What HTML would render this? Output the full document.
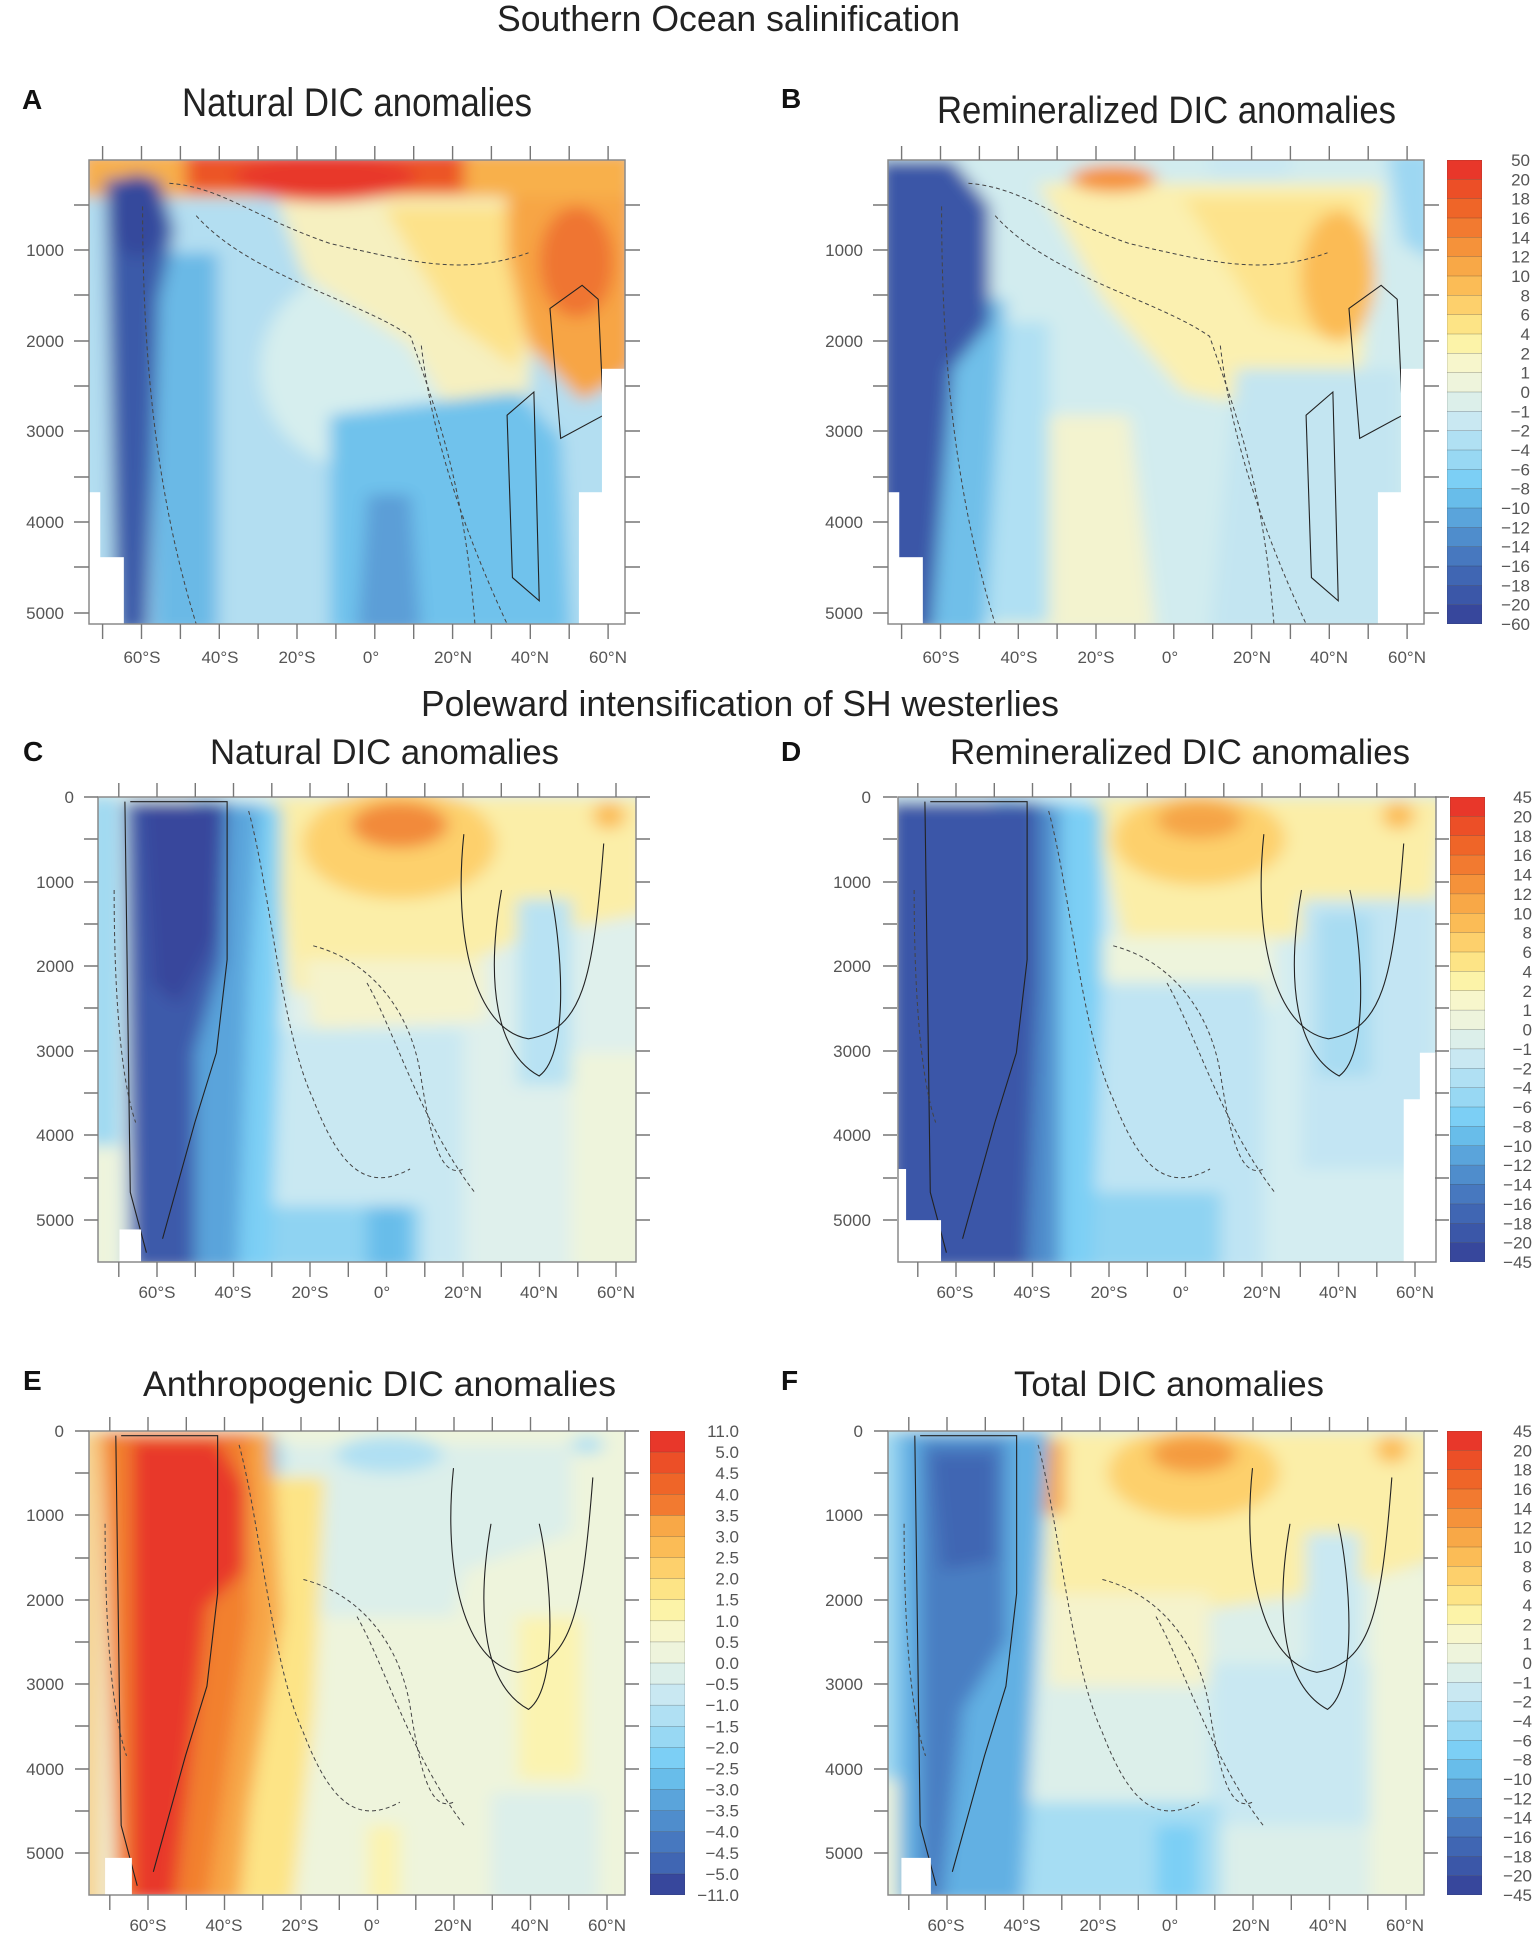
<!DOCTYPE html>
<html><head><meta charset="utf-8"><style>
html,body{margin:0;padding:0;background:#fff;}
svg{display:block;}
.t{font-family:"Liberation Sans Narrow","Liberation Sans",sans-serif;fill:#222;}
.k{font-family:"Liberation Sans Narrow","Liberation Sans",sans-serif;fill:#555;font-size:17px;}
.L{font-family:"Liberation Sans",sans-serif;font-weight:bold;fill:#111;font-size:28px;}
.ax{fill:none;stroke:#8a8a8a;stroke-width:1.5;}
.tk{stroke:#777;stroke-width:1.4;}
.cn{fill:none;stroke:#333;stroke-width:0.25;vector-effect:non-scaling-stroke;}
.cd{fill:none;stroke:#444;stroke-width:1;stroke-dasharray:4 3;vector-effect:non-scaling-stroke;}
.cs{fill:none;stroke:#222;stroke-width:1.1;vector-effect:non-scaling-stroke;}
</style></head><body>
<svg width="1535" height="1934" viewBox="0 0 1535 1934" xmlns="http://www.w3.org/2000/svg">
<defs>
<filter id="bl" x="-20%" y="-20%" width="140%" height="140%"><feGaussianBlur stdDeviation="1.6"/></filter>
<symbol id="cb24" viewBox="0 0 35 24" preserveAspectRatio="none">
<rect x="0" y="0" width="35" height="1" fill="#e8372a"/><rect x="0" y="1" width="35" height="1" fill="#ec4f27"/><rect x="0" y="2" width="35" height="1" fill="#ef6528"/><rect x="0" y="3" width="35" height="1" fill="#f27a30"/><rect x="0" y="4" width="35" height="1" fill="#f5923a"/><rect x="0" y="5" width="35" height="1" fill="#f8a847"/><rect x="0" y="6" width="35" height="1" fill="#fbbc56"/><rect x="0" y="7" width="35" height="1" fill="#fdd06c"/><rect x="0" y="8" width="35" height="1" fill="#fde486"/><rect x="0" y="9" width="35" height="1" fill="#fcf3a8"/><rect x="0" y="10" width="35" height="1" fill="#f7f6cc"/><rect x="0" y="11" width="35" height="1" fill="#eef4dc"/><rect x="0" y="12" width="35" height="1" fill="#dcefea"/><rect x="0" y="13" width="35" height="1" fill="#c9e8f2"/><rect x="0" y="14" width="35" height="1" fill="#b0e0f3"/><rect x="0" y="15" width="35" height="1" fill="#98d8f3"/><rect x="0" y="16" width="35" height="1" fill="#7ccff5"/><rect x="0" y="17" width="35" height="1" fill="#68bdea"/><rect x="0" y="18" width="35" height="1" fill="#5aa4db"/><rect x="0" y="19" width="35" height="1" fill="#4f8dcc"/><rect x="0" y="20" width="35" height="1" fill="#4778bf"/><rect x="0" y="21" width="35" height="1" fill="#4066b3"/><rect x="0" y="22" width="35" height="1" fill="#3b57a8"/><rect x="0" y="23" width="35" height="1" fill="#37479c"/>
<path class="cn" d="M0 1H35M0 2H35M0 3H35M0 4H35M0 5H35M0 6H35M0 7H35M0 8H35M0 9H35M0 10H35M0 11H35M0 12H35M0 13H35M0 14H35M0 15H35M0 16H35M0 17H35M0 18H35M0 19H35M0 20H35M0 21H35M0 22H35M0 23H35M0 0H35V24H0Z"/>
</symbol>
<symbol id="cb22" viewBox="0 0 35 22" preserveAspectRatio="none">
<rect x="0" y="0" width="35" height="1" fill="#e8372a"/><rect x="0" y="1" width="35" height="1" fill="#ec4f27"/><rect x="0" y="2" width="35" height="1" fill="#ef6528"/><rect x="0" y="3" width="35" height="1" fill="#f27a30"/><rect x="0" y="4" width="35" height="1" fill="#f8a847"/><rect x="0" y="5" width="35" height="1" fill="#fbbc56"/><rect x="0" y="6" width="35" height="1" fill="#fdd06c"/><rect x="0" y="7" width="35" height="1" fill="#fde486"/><rect x="0" y="8" width="35" height="1" fill="#fcf3a8"/><rect x="0" y="9" width="35" height="1" fill="#f7f6cc"/><rect x="0" y="10" width="35" height="1" fill="#eef4dc"/><rect x="0" y="11" width="35" height="1" fill="#dcefea"/><rect x="0" y="12" width="35" height="1" fill="#c9e8f2"/><rect x="0" y="13" width="35" height="1" fill="#b0e0f3"/><rect x="0" y="14" width="35" height="1" fill="#98d8f3"/><rect x="0" y="15" width="35" height="1" fill="#7ccff5"/><rect x="0" y="16" width="35" height="1" fill="#68bdea"/><rect x="0" y="17" width="35" height="1" fill="#5aa4db"/><rect x="0" y="18" width="35" height="1" fill="#4f8dcc"/><rect x="0" y="19" width="35" height="1" fill="#4778bf"/><rect x="0" y="20" width="35" height="1" fill="#4066b3"/><rect x="0" y="21" width="35" height="1" fill="#37479c"/>
<path class="cn" d="M0 1H35M0 2H35M0 3H35M0 4H35M0 5H35M0 6H35M0 7H35M0 8H35M0 9H35M0 10H35M0 11H35M0 12H35M0 13H35M0 14H35M0 15H35M0 16H35M0 17H35M0 18H35M0 19H35M0 20H35M0 21H35M0 0H35V22H0Z"/>
</symbol>
</defs>

<text class="t" x="497" y="31" font-size="36" textLength="463" lengthAdjust="spacingAndGlyphs">Southern Ocean salinification</text>
<text class="L" x="22" y="109">A</text>
<text class="t" x="182" y="116" font-size="40" textLength="350" lengthAdjust="spacingAndGlyphs">Natural DIC anomalies</text>
<text class="L" x="781" y="108">B</text>
<text class="t" x="937" y="123" font-size="38" textLength="459" lengthAdjust="spacingAndGlyphs">Remineralized DIC anomalies</text>

<text class="t" x="421" y="716" font-size="36" textLength="638" lengthAdjust="spacingAndGlyphs">Poleward intensification of SH westerlies</text>
<text class="L" x="23" y="761">C</text>
<text class="t" x="210" y="764" font-size="35" textLength="349" lengthAdjust="spacingAndGlyphs">Natural DIC anomalies</text>
<text class="L" x="781" y="761">D</text>
<text class="t" x="950" y="764" font-size="35" textLength="460" lengthAdjust="spacingAndGlyphs">Remineralized DIC anomalies</text>

<text class="L" x="23" y="1390">E</text>
<text class="t" x="143" y="1396" font-size="35" textLength="473" lengthAdjust="spacingAndGlyphs">Anthropogenic DIC anomalies</text>
<text class="L" x="781" y="1390">F</text>
<text class="t" x="1014" y="1396" font-size="35" textLength="310" lengthAdjust="spacingAndGlyphs">Total DIC anomalies</text>

<!-- Panel A -->
<svg x="89" y="160" width="536" height="464" viewBox="0 0 100 100" preserveAspectRatio="none">
<g filter="url(#bl)">
<rect x="-5" y="-5" width="110" height="110" fill="#b3def1"/>
<ellipse cx="52" cy="45" rx="20" ry="22" fill="#d6eeee"/>
<polygon points="35,8 85,8 82,50 70,60 60,40 40,25" fill="#f6f0c0"/>
<polygon points="55,10 85,10 80,45 68,35 60,20" fill="#fde28a"/>
<polygon points="78,5 102,5 102,45 92,52 82,40 78,20" fill="#f7a545"/>
<ellipse cx="91" cy="22" rx="7" ry="12" fill="#ef7530"/>
<rect x="-2" y="-2" width="104" height="10" fill="#f8b04c"/>
<rect x="18" y="-2" width="52" height="9" fill="#ec5528"/>
<ellipse cx="44" cy="4" rx="17" ry="5" fill="#e8372a"/>
<polygon points="12,20 24,20 24,102 12,102" fill="#6ab9e6"/>
<polygon points="45,55 80,50 88,60 90,102 45,102" fill="#70c2ec"/>
<polygon points="52,72 60,72 62,102 50,102" fill="#5c9ed7"/>
<polygon points="3,4 13,4 16,15 13,30 11,102 5,102" fill="#3b5aa9"/>
<ellipse cx="9" cy="12" rx="5" ry="9" fill="#36499c"/>
</g>
<path class="cd" d="M15,5 C25,6 30,12 45,18 60,22 70,25 82,20 M20,12 C30,25 50,30 60,38 65,55 70,70 72,100 M10,10 C10,40 12,70 20,100 M62,40 C64,60 70,80 78,100"/>
<path class="cs" d="M86,32 L92,27 95,30 96,55 88,60 Z M78,55 L83,50 84,95 79,90 Z"/>
<rect x="-1" y="71.6" width="3.1" height="30" fill="#fff"/>
<rect x="-1" y="85.6" width="7.5" height="20" fill="#fff"/>
<rect x="95.7" y="45" width="6" height="60" fill="#fff"/>
<rect x="91.4" y="71.6" width="10" height="30" fill="#fff"/>
</svg>
<rect class="ax" x="89" y="160" width="536" height="464"/>

<!-- Panel B -->
<svg x="888" y="160" width="536" height="464" viewBox="0 0 100 100" preserveAspectRatio="none">
<g filter="url(#bl)">
<rect x="-5" y="-5" width="110" height="110" fill="#d2ecef"/>
<polygon points="18,55 45,55 50,102 20,102" fill="#f3f3cf"/>
<polygon points="28,5 92,5 88,48 75,55 55,50 40,30" fill="#fbf0b0"/>
<polygon points="55,8 88,8 86,40 70,35" fill="#fde38c"/>
<ellipse cx="84" cy="25" rx="7" ry="14" fill="#fbbb55"/>
<ellipse cx="42" cy="4" rx="8" ry="3" fill="#f5923a"/>
<rect x="60" y="-2" width="15" height="6" fill="#c9e8f2"/>
<polygon points="93,-2 102,-2 102,22 96,18" fill="#9dd7f2"/>
<polygon points="65,45 96,45 96,102 60,102" fill="#c3e5f1"/>
<polygon points="14,35 30,35 30,100 14,100" fill="#b0e0f3"/>
<polygon points="8,30 22,30 18,102 8,102" fill="#6fbfe9"/>
<polygon points="-2,0 12,0 19,10 19,35 12,45 8,102 -2,102" fill="#3a56a7"/>
</g>
<path class="cd" d="M15,5 C25,6 30,12 45,18 60,22 70,25 82,20 M20,12 C30,25 50,30 60,38 65,55 70,70 72,100 M10,10 C10,40 12,70 20,100 M62,40 C64,60 70,80 78,100"/>
<path class="cs" d="M86,32 L92,27 95,30 96,55 88,60 Z M78,55 L83,50 84,95 79,90 Z"/>
<rect x="-1" y="71.6" width="3.1" height="30" fill="#fff"/>
<rect x="-1" y="85.6" width="7.5" height="20" fill="#fff"/>
<rect x="95.7" y="45" width="6" height="60" fill="#fff"/>
<rect x="91.4" y="71.6" width="10" height="30" fill="#fff"/>
</svg>
<rect class="ax" x="888" y="160" width="536" height="464"/>

<!-- Panel C -->
<svg x="98" y="797" width="538" height="465" viewBox="0 0 100 100" preserveAspectRatio="none">
<g filter="url(#bl)">
<rect x="-5" y="-5" width="110" height="110" fill="#dff0ec"/>
<polygon points="28,50 68,50 68,102 28,102" fill="#c9e8f2"/>
<polygon points="88,55 102,55 102,102 88,102" fill="#eef4dc"/>
<polygon points="32,0 102,0 102,25 80,30 60,40 36,42" fill="#fbeea8"/>
<polygon points="38,35 72,35 72,48 40,50" fill="#f5f3cc"/>
<ellipse cx="56" cy="10" rx="18" ry="12" fill="#fdd06c"/>
<ellipse cx="56" cy="6" rx="9" ry="5" fill="#f28a3a"/>
<polygon points="29,2 33,2 33,16 30,16" fill="#f5953c"/>
<ellipse cx="95" cy="4" rx="3" ry="3" fill="#fbbc56"/>
<polygon points="78,22 88,22 88,62 78,62" fill="#b8e2f3"/>
<polygon points="6,88 60,88 60,102 6,102" fill="#8fd3f2"/>
<polygon points="50,88 58,88 58,102 50,102" fill="#68bdea"/>
<polygon points="18,0 34,2 34,40 32,102 14,102" fill="#7ccff5"/>
<polygon points="18,2 30,2 28,40 26,102 12,102" fill="#5aa4db"/>
<polygon points="5,1 24,1 23,35 18,55 18,102 6,102" fill="#3d5aaa"/>
<polygon points="8,1 23,1 22,30 15,45 10,40" fill="#37479c"/>
<rect x="-2" y="0" width="6" height="75" fill="#9fd9f2"/>
<rect x="-2" y="75" width="6" height="30" fill="#eef4dc"/>
</g>
<path class="cs" d="M5,1 L6,85 L9,98 M6,1 L24,1 L24,35 L22,55 L18,70 L12,95 M68,8 C66,30 70,50 80,52 C90,50 92,40 94,10 M75,20 C72,40 74,55 82,60 C88,55 86,30 84,20"/>
<path class="cd" d="M28,3 C32,20 34,50 40,65 45,80 50,85 58,80 M40,32 C50,35 58,45 60,60 62,75 64,82 68,80 M50,40 C55,50 60,70 70,85 M3,20 C3,40 4,60 7,70"/>
<rect x="4" y="93" width="4" height="10" fill="#fff"/>
</svg>
<rect class="ax" x="98" y="797" width="538" height="465"/>

<!-- Panel D -->
<svg x="898" y="797" width="538" height="465" viewBox="0 0 100 100" preserveAspectRatio="none">
<g filter="url(#bl)">
<rect x="-5" y="-5" width="110" height="110" fill="#d4edf1"/>
<polygon points="36,0 102,0 100,22 80,30 42,32" fill="#fbeea8"/>
<polygon points="36,30 70,30 70,45 40,48" fill="#eef4dc"/>
<ellipse cx="56" cy="9" rx="16" ry="10" fill="#fdd06c"/>
<ellipse cx="56" cy="5" rx="8" ry="4" fill="#f5a446"/>
<polygon points="30,2 34,2 34,14 31,14" fill="#fbbc56"/>
<ellipse cx="93" cy="4" rx="3" ry="3" fill="#fbbc56"/>
<polygon points="75,22 100,22 100,80 75,80" fill="#c3e5f3"/>
<polygon points="78,25 88,25 88,60 78,60" fill="#a8dcf2"/>
<polygon points="28,40 68,40 68,102 28,102" fill="#bfe4f3"/>
<polygon points="30,85 60,85 60,102 30,102" fill="#8fd3f2"/>
<polygon points="18,0 38,2 38,40 36,102 14,102" fill="#7ccff5"/>
<polygon points="18,2 30,2 30,40 30,102 12,102" fill="#4f8dcc"/>
<polygon points="-2,1 26,1 26,40 24,102 -2,102" fill="#3b57a8"/>
</g>
<path class="cs" d="M5,1 L6,85 L9,98 M6,1 L24,1 L24,35 L22,55 L18,70 L12,95 M68,8 C66,30 70,50 80,52 C90,50 92,40 94,10 M75,20 C72,40 74,55 82,60 C88,55 86,30 84,20"/>
<path class="cd" d="M28,3 C32,20 34,50 40,65 45,80 50,85 58,80 M40,32 C50,35 58,45 60,60 62,75 64,82 68,80 M50,40 C55,50 60,70 70,85 M3,20 C3,40 4,60 7,70"/>
<rect x="-1" y="80" width="2.5" height="25" fill="#fff"/>
<rect x="-1" y="91" width="9" height="15" fill="#fff"/>
<rect x="97" y="55" width="5" height="50" fill="#fff"/>
<rect x="94" y="65" width="8" height="40" fill="#fff"/>
</svg>
<rect class="ax" x="898" y="797" width="538" height="465"/>

<!-- Panel E -->
<svg x="89" y="1431" width="536" height="464" viewBox="0 0 100 100" preserveAspectRatio="none">
<g filter="url(#bl)">
<rect x="-5" y="-5" width="110" height="110" fill="#eef4dc"/>
<polygon points="36,3 90,3 90,22 70,30 68,40 38,40" fill="#dcefea"/>
<ellipse cx="56" cy="5" rx="10" ry="4" fill="#b0e0f3"/>
<ellipse cx="33" cy="6" rx="3" ry="6" fill="#7ccff5"/>
<ellipse cx="93" cy="3" rx="3" ry="2" fill="#b0e0f3"/>
<polygon points="80,40 92,40 92,75 80,75" fill="#fbf3b0"/>
<polygon points="75,78 95,78 95,102 75,102" fill="#dcefea"/>
<polygon points="52,85 58,85 58,102 52,102" fill="#fbf3b0"/>
<polygon points="30,10 44,10 42,60 38,102 25,102" fill="#fde486"/>
<polygon points="2,0 34,0 36,40 30,80 28,102 5,102" fill="#f7a646"/>
<polygon points="3,0 30,0 30,40 22,102 5,102" fill="#f2802f"/>
<polygon points="8,2 24,2 29,12 29,30 22,38 16,102 8,102" fill="#e8372a"/>
<rect x="-2" y="0" width="4" height="105" fill="#f7d08a"/>
</g>
<path class="cs" d="M5,1 L6,85 L9,98 M6,1 L24,1 L24,35 L22,55 L18,70 L12,95 M68,8 C66,30 70,50 80,52 C90,50 92,40 94,10 M75,20 C72,40 74,55 82,60 C88,55 86,30 84,20"/>
<path class="cd" d="M28,3 C32,20 34,50 40,65 45,80 50,85 58,80 M40,32 C50,35 58,45 60,60 62,75 64,82 68,80 M50,40 C55,50 60,70 70,85 M3,20 C3,40 4,60 7,70"/>
<rect x="3" y="92" width="5" height="12" fill="#fff"/>
</svg>
<rect class="ax" x="89" y="1431" width="536" height="464"/>

<!-- Panel F -->
<svg x="888" y="1431" width="536" height="464" viewBox="0 0 100 100" preserveAspectRatio="none">
<g filter="url(#bl)">
<rect x="-5" y="-5" width="110" height="110" fill="#dcefea"/>
<polygon points="90,30 102,30 102,102 90,102" fill="#eef4dc"/>
<polygon points="30,0 102,0 102,28 80,35 50,40 30,40" fill="#fbeea8"/>
<polygon points="30,35 60,35 60,55 30,55" fill="#f5f3cc"/>
<ellipse cx="57" cy="9" rx="16" ry="10" fill="#fdd06c"/>
<ellipse cx="57" cy="5" rx="8" ry="4" fill="#f49b40"/>
<polygon points="28,2 33,2 33,18 29,18" fill="#f7a646"/>
<ellipse cx="94" cy="4" rx="3" ry="3" fill="#fbbc56"/>
<polygon points="78,22 88,22 88,58 78,58" fill="#c9e8f2"/>
<polygon points="60,50 90,50 90,85 60,85" fill="#c9e8f2"/>
<polygon points="10,80 62,80 62,102 10,102" fill="#a6ddf3"/>
<polygon points="50,85 58,85 58,102 50,102" fill="#7ccff5"/>
<polygon points="-2,0 30,0 28,40 25,102 -2,102" fill="#62b0e3"/>
<polygon points="6,2 22,2 22,45 14,60 10,102 6,102" fill="#4a7ec2"/>
<polygon points="8,5 20,5 20,28 10,30" fill="#4066b3"/>
<rect x="-2" y="0" width="4" height="75" fill="#9fd9f2"/>
<rect x="-2" y="75" width="4" height="30" fill="#eef4dc"/>
</g>
<path class="cs" d="M5,1 L6,85 L9,98 M6,1 L24,1 L24,35 L22,55 L18,70 L12,95 M68,8 C66,30 70,50 80,52 C90,50 92,40 94,10 M75,20 C72,40 74,55 82,60 C88,55 86,30 84,20"/>
<path class="cd" d="M28,3 C32,20 34,50 40,65 45,80 50,85 58,80 M40,32 C50,35 58,45 60,60 62,75 64,82 68,80 M50,40 C55,50 60,70 70,85 M3,20 C3,40 4,60 7,70"/>
<rect x="2.5" y="92" width="5.5" height="12" fill="#fff"/>
</svg>
<rect class="ax" x="888" y="1431" width="536" height="464"/>

<!-- Ticks -->
<path class="tk" d="M102.6 146V160M141.5 146V160M180.4 146V160M219.3 146V160M258.1 146V160M297 146V160M335.9 146V160M374.8 146V160M413.7 146V160M452.6 146V160M491.4 146V160M530.3 146V160M569.2 146V160M608.1 146V160
M102.6 624V639M141.5 624V639M180.4 624V639M219.3 624V639M258.1 624V639M297 624V639M335.9 624V639M374.8 624V639M413.7 624V639M452.6 624V639M491.4 624V639M530.3 624V639M569.2 624V639M608.1 624V639
M74 205H89M74 250H89M74 295H89M74 341H89M74 386H89M74 431H89M74 477H89M74 522H89M74 567H89M74 613H89
M625 205H640M625 250H640M625 295H640M625 341H640M625 386H640M625 431H640M625 477H640M625 522H640M625 567H640M625 613H640"/>
<g transform="translate(799,0)"><path class="tk" d="M102.6 146V160M141.5 146V160M180.4 146V160M219.3 146V160M258.1 146V160M297 146V160M335.9 146V160M374.8 146V160M413.7 146V160M452.6 146V160M491.4 146V160M530.3 146V160M569.2 146V160M608.1 146V160
M102.6 624V639M141.5 624V639M180.4 624V639M219.3 624V639M258.1 624V639M297 624V639M335.9 624V639M374.8 624V639M413.7 624V639M452.6 624V639M491.4 624V639M530.3 624V639M569.2 624V639M608.1 624V639
M74 205H89M74 250H89M74 295H89M74 341H89M74 386H89M74 431H89M74 477H89M74 522H89M74 567H89M74 613H89
M625 205H640M625 250H640M625 295H640M625 341H640M625 386H640M625 431H640M625 477H640M625 522H640M625 567H640M625 613H640"/></g>
<path class="tk" d="M118.8 783V797M157 783V797M195.3 783V797M233.5 783V797M271.8 783V797M310 783V797M348.3 783V797M386.5 783V797M424.8 783V797M463 783V797M501.3 783V797M539.5 783V797M577.8 783V797M616 783V797
M118.8 1262V1277M157 1262V1277M195.3 1262V1277M233.5 1262V1277M271.8 1262V1277M310 1262V1277M348.3 1262V1277M386.5 1262V1277M424.8 1262V1277M463 1262V1277M501.3 1262V1277M539.5 1262V1277M577.8 1262V1277M616 1262V1277
M84 797H98M84 839H98M84 882H98M84 924H98M84 966H98M84 1008H98M84 1051H98M84 1093H98M84 1135H98M84 1178H98M84 1220H98
M636 797H650M636 839H650M636 882H650M636 924H650M636 966H650M636 1008H650M636 1051H650M636 1093H650M636 1135H650M636 1178H650M636 1220H650"/>
<g transform="translate(799,0)"><path class="tk" d="M118.8 783V797M157 783V797M195.3 783V797M233.5 783V797M271.8 783V797M310 783V797M348.3 783V797M386.5 783V797M424.8 783V797M463 783V797M501.3 783V797M539.5 783V797M577.8 783V797M616 783V797
M118.8 1262V1277M157 1262V1277M195.3 1262V1277M233.5 1262V1277M271.8 1262V1277M310 1262V1277M348.3 1262V1277M386.5 1262V1277M424.8 1262V1277M463 1262V1277M501.3 1262V1277M539.5 1262V1277M577.8 1262V1277M616 1262V1277
M84 797H98M84 839H98M84 882H98M84 924H98M84 966H98M84 1008H98M84 1051H98M84 1093H98M84 1135H98M84 1178H98M84 1220H98
M636 797H650M636 839H650M636 882H650M636 924H650M636 966H650M636 1008H650M636 1051H650M636 1093H650M636 1135H650M636 1178H650M636 1220H650"/></g>
<path class="tk" d="M109.8 1417V1431M148 1417V1431M186.3 1417V1431M224.5 1417V1431M262.8 1417V1431M301 1417V1431M339.3 1417V1431M377.5 1417V1431M415.8 1417V1431M454 1417V1431M492.3 1417V1431M530.5 1417V1431M568.8 1417V1431M607 1417V1431
M109.8 1895V1910M148 1895V1910M186.3 1895V1910M224.5 1895V1910M262.8 1895V1910M301 1895V1910M339.3 1895V1910M377.5 1895V1910M415.8 1895V1910M454 1895V1910M492.3 1895V1910M530.5 1895V1910M568.8 1895V1910M607 1895V1910
M75 1431H89M75 1473H89M75 1515H89M75 1558H89M75 1600H89M75 1642H89M75 1684H89M75 1726H89M75 1769H89M75 1811H89M75 1853H89
M625 1431H639M625 1473H639M625 1515H639M625 1558H639M625 1600H639M625 1642H639M625 1684H639M625 1726H639M625 1769H639M625 1811H639M625 1853H639"/>
<g transform="translate(799,0)"><path class="tk" d="M109.8 1417V1431M148 1417V1431M186.3 1417V1431M224.5 1417V1431M262.8 1417V1431M301 1417V1431M339.3 1417V1431M377.5 1417V1431M415.8 1417V1431M454 1417V1431M492.3 1417V1431M530.5 1417V1431M568.8 1417V1431M607 1417V1431
M109.8 1895V1910M148 1895V1910M186.3 1895V1910M224.5 1895V1910M262.8 1895V1910M301 1895V1910M339.3 1895V1910M377.5 1895V1910M415.8 1895V1910M454 1895V1910M492.3 1895V1910M530.5 1895V1910M568.8 1895V1910M607 1895V1910
M75 1431H89M75 1473H89M75 1515H89M75 1558H89M75 1600H89M75 1642H89M75 1684H89M75 1726H89M75 1769H89M75 1811H89M75 1853H89
M625 1431H639M625 1473H639M625 1515H639M625 1558H639M625 1600H639M625 1642H639M625 1684H639M625 1726H639M625 1769H639M625 1811H639M625 1853H639"/></g>

<!-- Axis labels -->
<g class="k" text-anchor="end">
<text x="64" y="256">1000</text><text x="64" y="347">2000</text><text x="64" y="437">3000</text><text x="64" y="528">4000</text><text x="64" y="619">5000</text>
<text x="863" y="256">1000</text><text x="863" y="347">2000</text><text x="863" y="437">3000</text><text x="863" y="528">4000</text><text x="863" y="619">5000</text>
<text x="74" y="803">0</text><text x="74" y="888">1000</text><text x="74" y="972">2000</text><text x="74" y="1057">3000</text><text x="74" y="1141">4000</text><text x="74" y="1226">5000</text>
<text x="871" y="803">0</text><text x="871" y="888">1000</text><text x="871" y="972">2000</text><text x="871" y="1057">3000</text><text x="871" y="1141">4000</text><text x="871" y="1226">5000</text>
<text x="64" y="1437">0</text><text x="64" y="1521">1000</text><text x="64" y="1606">2000</text><text x="64" y="1690">3000</text><text x="64" y="1775">4000</text><text x="64" y="1859">5000</text>
<text x="863" y="1437">0</text><text x="863" y="1521">1000</text><text x="863" y="1606">2000</text><text x="863" y="1690">3000</text><text x="863" y="1775">4000</text><text x="863" y="1859">5000</text>
</g>
<g class="k" text-anchor="middle">
<text x="142" y="663">60°S</text><text x="220" y="663">40°S</text><text x="297" y="663">20°S</text><text x="371" y="663">0°</text><text x="453" y="663">20°N</text><text x="530" y="663">40°N</text><text x="608" y="663">60°N</text>
<text x="941" y="663">60°S</text><text x="1019" y="663">40°S</text><text x="1096" y="663">20°S</text><text x="1170" y="663">0°</text><text x="1252" y="663">20°N</text><text x="1329" y="663">40°N</text><text x="1407" y="663">60°N</text>
<text x="157" y="1298">60°S</text><text x="233" y="1298">40°S</text><text x="310" y="1298">20°S</text><text x="382" y="1298">0°</text><text x="463" y="1298">20°N</text><text x="539" y="1298">40°N</text><text x="616" y="1298">60°N</text>
<text x="955" y="1298">60°S</text><text x="1032" y="1298">40°S</text><text x="1109" y="1298">20°S</text><text x="1181" y="1298">0°</text><text x="1262" y="1298">20°N</text><text x="1338" y="1298">40°N</text><text x="1415" y="1298">60°N</text>
<text x="148" y="1931">60°S</text><text x="224" y="1931">40°S</text><text x="300" y="1931">20°S</text><text x="372" y="1931">0°</text><text x="453" y="1931">20°N</text><text x="530" y="1931">40°N</text><text x="607" y="1931">60°N</text>
<text x="946" y="1931">60°S</text><text x="1022" y="1931">40°S</text><text x="1098" y="1931">20°S</text><text x="1170" y="1931">0°</text><text x="1251" y="1931">20°N</text><text x="1328" y="1931">40°N</text><text x="1405" y="1931">60°N</text>
</g>

<!-- Colorbars -->
<use href="#cb24" x="1447" y="160" width="35" height="464"/>
<use href="#cb24" x="1450" y="797" width="35" height="465"/>
<use href="#cb22" x="650" y="1431" width="35" height="464"/>
<use href="#cb24" x="1447" y="1431" width="35" height="464"/>

<text class="k" text-anchor="end" font-size="17"><tspan x="1530" y="166">50</tspan><tspan x="1530" dy="19.33">20</tspan><tspan x="1530" dy="19.33">18</tspan><tspan x="1530" dy="19.33">16</tspan><tspan x="1530" dy="19.33">14</tspan><tspan x="1530" dy="19.33">12</tspan><tspan x="1530" dy="19.33">10</tspan><tspan x="1530" dy="19.33">8</tspan><tspan x="1530" dy="19.33">6</tspan><tspan x="1530" dy="19.33">4</tspan><tspan x="1530" dy="19.33">2</tspan><tspan x="1530" dy="19.33">1</tspan><tspan x="1530" dy="19.33">0</tspan><tspan x="1530" dy="19.33">−1</tspan><tspan x="1530" dy="19.33">−2</tspan><tspan x="1530" dy="19.33">−4</tspan><tspan x="1530" dy="19.33">−6</tspan><tspan x="1530" dy="19.33">−8</tspan><tspan x="1530" dy="19.33">−10</tspan><tspan x="1530" dy="19.33">−12</tspan><tspan x="1530" dy="19.33">−14</tspan><tspan x="1530" dy="19.33">−16</tspan><tspan x="1530" dy="19.33">−18</tspan><tspan x="1530" dy="19.33">−20</tspan><tspan x="1530" dy="19.33">−60</tspan></text>

<text class="k" text-anchor="end" font-size="17"><tspan x="1532" y="803">45</tspan><tspan x="1532" dy="19.375">20</tspan><tspan x="1532" dy="19.375">18</tspan><tspan x="1532" dy="19.375">16</tspan><tspan x="1532" dy="19.375">14</tspan><tspan x="1532" dy="19.375">12</tspan><tspan x="1532" dy="19.375">10</tspan><tspan x="1532" dy="19.375">8</tspan><tspan x="1532" dy="19.375">6</tspan><tspan x="1532" dy="19.375">4</tspan><tspan x="1532" dy="19.375">2</tspan><tspan x="1532" dy="19.375">1</tspan><tspan x="1532" dy="19.375">0</tspan><tspan x="1532" dy="19.375">−1</tspan><tspan x="1532" dy="19.375">−2</tspan><tspan x="1532" dy="19.375">−4</tspan><tspan x="1532" dy="19.375">−6</tspan><tspan x="1532" dy="19.375">−8</tspan><tspan x="1532" dy="19.375">−10</tspan><tspan x="1532" dy="19.375">−12</tspan><tspan x="1532" dy="19.375">−14</tspan><tspan x="1532" dy="19.375">−16</tspan><tspan x="1532" dy="19.375">−18</tspan><tspan x="1532" dy="19.375">−20</tspan><tspan x="1532" dy="19.375">−45</tspan></text>

<text class="k" text-anchor="end" font-size="17"><tspan x="739" y="1437">11.0</tspan><tspan x="739" dy="21.09">5.0</tspan><tspan x="739" dy="21.09">4.5</tspan><tspan x="739" dy="21.09">4.0</tspan><tspan x="739" dy="21.09">3.5</tspan><tspan x="739" dy="21.09">3.0</tspan><tspan x="739" dy="21.09">2.5</tspan><tspan x="739" dy="21.09">2.0</tspan><tspan x="739" dy="21.09">1.5</tspan><tspan x="739" dy="21.09">1.0</tspan><tspan x="739" dy="21.09">0.5</tspan><tspan x="739" dy="21.09">0.0</tspan><tspan x="739" dy="21.09">−0.5</tspan><tspan x="739" dy="21.09">−1.0</tspan><tspan x="739" dy="21.09">−1.5</tspan><tspan x="739" dy="21.09">−2.0</tspan><tspan x="739" dy="21.09">−2.5</tspan><tspan x="739" dy="21.09">−3.0</tspan><tspan x="739" dy="21.09">−3.5</tspan><tspan x="739" dy="21.09">−4.0</tspan><tspan x="739" dy="21.09">−4.5</tspan><tspan x="739" dy="21.09">−5.0</tspan><tspan x="739" dy="21.09">−11.0</tspan></text>

<text class="k" text-anchor="end" font-size="17"><tspan x="1532" y="1437">45</tspan><tspan x="1532" dy="19.33">20</tspan><tspan x="1532" dy="19.33">18</tspan><tspan x="1532" dy="19.33">16</tspan><tspan x="1532" dy="19.33">14</tspan><tspan x="1532" dy="19.33">12</tspan><tspan x="1532" dy="19.33">10</tspan><tspan x="1532" dy="19.33">8</tspan><tspan x="1532" dy="19.33">6</tspan><tspan x="1532" dy="19.33">4</tspan><tspan x="1532" dy="19.33">2</tspan><tspan x="1532" dy="19.33">1</tspan><tspan x="1532" dy="19.33">0</tspan><tspan x="1532" dy="19.33">−1</tspan><tspan x="1532" dy="19.33">−2</tspan><tspan x="1532" dy="19.33">−4</tspan><tspan x="1532" dy="19.33">−6</tspan><tspan x="1532" dy="19.33">−8</tspan><tspan x="1532" dy="19.33">−10</tspan><tspan x="1532" dy="19.33">−12</tspan><tspan x="1532" dy="19.33">−14</tspan><tspan x="1532" dy="19.33">−16</tspan><tspan x="1532" dy="19.33">−18</tspan><tspan x="1532" dy="19.33">−20</tspan><tspan x="1532" dy="19.33">−45</tspan></text>
</svg>
</body></html>
